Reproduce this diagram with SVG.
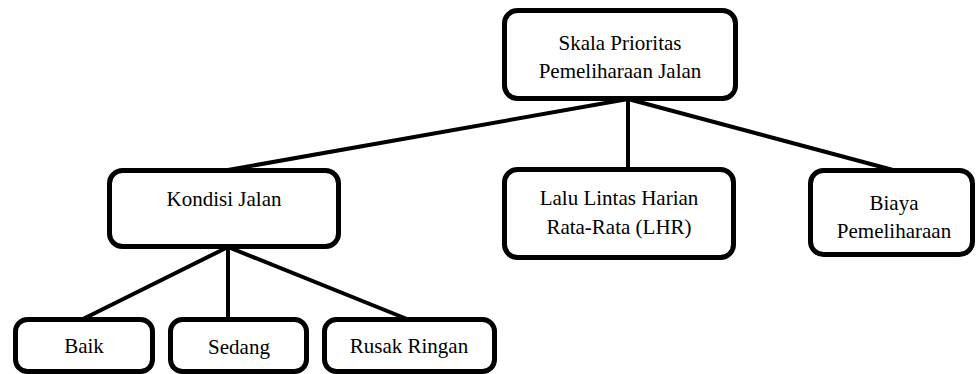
<svg xmlns="http://www.w3.org/2000/svg" width="976" height="374" viewBox="0 0 976 374">
<style>
.box{fill:#fff;stroke:#000;stroke-width:5}
text{font-family:'Liberation Serif','Times New Roman','DejaVu Serif',Times,serif;font-size:21px;fill:#000;text-anchor:middle}
.con line{stroke:#000;stroke-width:4;stroke-linecap:butt}
</style>
<rect width="976" height="374" fill="#fff"/>
<g id="connectors" class="con">
<line x1="628" y1="99" x2="228" y2="170"/>
<line x1="628" y1="99" x2="628" y2="169"/>
<line x1="628" y1="99" x2="893" y2="170"/>
<line x1="228" y1="247" x2="83" y2="319"/>
<line x1="228" y1="247" x2="228" y2="319"/>
<line x1="228" y1="247" x2="407" y2="319"/>
</g>
<g font-family="Liberation Serif, Times New Roman, serif">
<g id="skala">
<rect class="box" x="504.5" y="10.5" width="231" height="88" rx="13"/>
<text x="620" y="50">Skala Prioritas</text>
<text x="620" y="78">Pemeliharaan Jalan</text>
</g>
<g id="kondisi">
<rect class="box" x="109.5" y="170.5" width="229" height="76" rx="13"/>
<text x="224" y="206">Kondisi Jalan</text>
</g>
<g id="lhr">
<rect class="box" x="504.5" y="169.5" width="229" height="88" rx="13"/>
<text x="619" y="205">Lalu Lintas Harian</text>
<text x="619" y="234">Rata-Rata (LHR)</text>
</g>
<g id="biaya">
<rect class="box" x="810.5" y="170.5" width="162" height="84" rx="13"/>
<text x="894" y="210">Biaya</text>
<text x="894" y="238">Pemeliharaan</text>
</g>
<g id="baik">
<rect class="box" x="15.5" y="319.5" width="137" height="52" rx="12"/>
<text x="84" y="353">Baik</text>
</g>
<g id="sedang">
<rect class="box" x="170.5" y="319.5" width="136" height="52" rx="12"/>
<text x="239" y="354">Sedang</text>
</g>
<g id="rusak">
<rect class="box" x="324.5" y="319.5" width="170" height="52" rx="12"/>
<text x="409" y="353">Rusak Ringan</text>
</g>
</g>
</svg>
